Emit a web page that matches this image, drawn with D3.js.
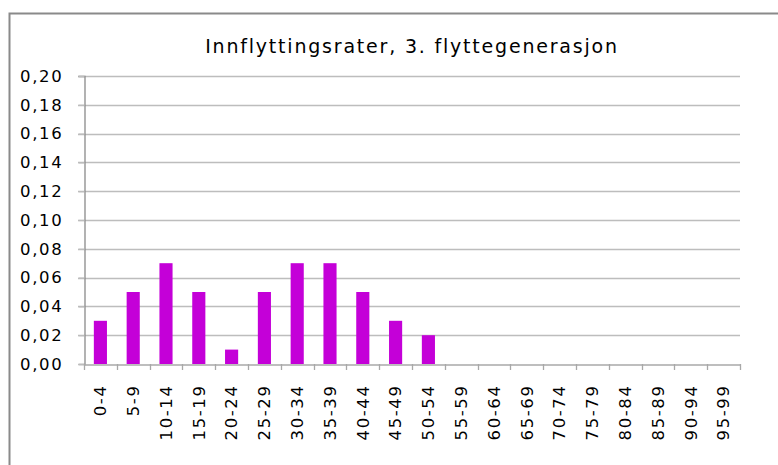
<!DOCTYPE html>
<html>
<head>
<meta charset="utf-8">
<script src="https://cdn.jsdelivr.net/npm/d3@7"></script>
<style>
  body { margin: 0; background: #fff; }
  svg text { font-family: "DejaVu Sans", Verdana, sans-serif; fill: #000; }
</style>
</head>
<body>
<div id="chart"></div>
<script>
const ageGroups = ["0-4", "5-9", "10-14", "15-19", "20-24", "25-29", "30-34", "35-39", "40-44", "45-49",
  "50-54", "55-59", "60-64", "65-69", "70-74", "75-79", "80-84", "85-89", "90-94", "95-99"];
const rates = [0.03, 0.05, 0.07, 0.05, 0.01, 0.05, 0.07, 0.07, 0.05, 0.03,
  0.02, 0, 0, 0, 0, 0, 0, 0, 0, 0];
const yTicks = [0, 0.02, 0.04, 0.06, 0.08, 0.10, 0.12, 0.14, 0.16, 0.18, 0.20];
const chartTitle = "Innflyttingsrater, 3. flyttegenerasjon";

const width = 778, height = 465;
const margin = { top: 76, right: 38, bottom: 101, left: 84 };

const svg = d3.select("#chart").append("svg")
  .attr("width", width)
  .attr("height", height);

// outer chart frame (runs off the right and bottom edge)
svg.append("rect")
  .attr("x", 9.5).attr("y", 13.5)
  .attr("width", 800).attr("height", 500)
  .attr("fill", "none")
  .attr("stroke", "#8a8a8a")
  .attr("stroke-width", 2);

const x = d3.scaleBand()
  .domain(ageGroups)
  .range([margin.left, width - margin.right]);

const y = d3.scaleLinear()
  .domain([0, 0.2])
  .range([height - margin.bottom, margin.top]);

const fmt = d => d.toFixed(2).replace(".", ",");

// gridlines
svg.append("g")
  .selectAll("line")
  .data(yTicks.slice(1))
  .join("line")
  .attr("x1", margin.left - 6)
  .attr("x2", width - margin.right)
  .attr("y1", d => Math.round(y(d)) + 0.5)
  .attr("y2", d => Math.round(y(d)) + 0.5)
  .attr("stroke", "#bdbdbd")
  .attr("stroke-width", 1.3);

// bars
const barW = x.bandwidth() / 2.5;
svg.append("g")
  .selectAll("rect")
  .data(ageGroups.map((g, i) => ({ g, v: rates[i] })).filter(d => d.v > 0))
  .join("rect")
  .attr("x", d => x(d.g) + (x.bandwidth() - barW) / 2)
  .attr("y", d => y(d.v))
  .attr("width", barW)
  .attr("height", d => y(0) - y(d.v))
  .attr("fill", "#c400d8");

// y axis
const yAxis = svg.append("g")
  .attr("transform", `translate(${margin.left + 0.5},0)`)
  .call(d3.axisLeft(y).tickValues(yTicks).tickFormat(fmt).tickSize(6).tickPadding(15));
yAxis.select(".domain").attr("stroke", "#8a8a8a").attr("stroke-width", 1.3);
yAxis.selectAll(".tick line").attr("stroke", "#bdbdbd").attr("stroke-width", 1.3);
yAxis.selectAll("text")
  .style("font-size", "16.5px")
  .style("letter-spacing", "1.7px")
  .attr("fill", "#000");

// x axis
const xAxis = svg.append("g")
  .attr("transform", `translate(0,${Math.round(y(0)) + 0.5})`)
  .call(d3.axisBottom(x).tickSize(0).tickFormat(d => d));
xAxis.select(".domain").attr("stroke", "#a8a8a8").attr("stroke-width", 1.3);
xAxis.selectAll(".tick text")
  .style("font-size", "16.5px")
  .style("letter-spacing", "1.6px")
  .attr("fill", "#000")
  .attr("transform", "rotate(-90)")
  .attr("text-anchor", "end")
  .attr("x", -20)
  .attr("y", 0)
  .attr("dy", "0.35em");

// category tick marks on band boundaries
svg.append("g")
  .selectAll("line")
  .data(d3.range(ageGroups.length + 1))
  .join("line")
  .attr("x1", i => Math.round(margin.left + i * x.step()) + 0.5)
  .attr("x2", i => Math.round(margin.left + i * x.step()) + 0.5)
  .attr("y1", y(0))
  .attr("y2", y(0) + 6)
  .attr("stroke", "#a8a8a8")
  .attr("stroke-width", 1.3);

// title
svg.append("text")
  .attr("x", (margin.left + width - margin.right) / 2)
  .attr("y", 53)
  .attr("text-anchor", "middle")
  .style("font-size", "19px")
  .style("letter-spacing", "1.8px")
  .text(chartTitle);
</script>
</body>
</html>
